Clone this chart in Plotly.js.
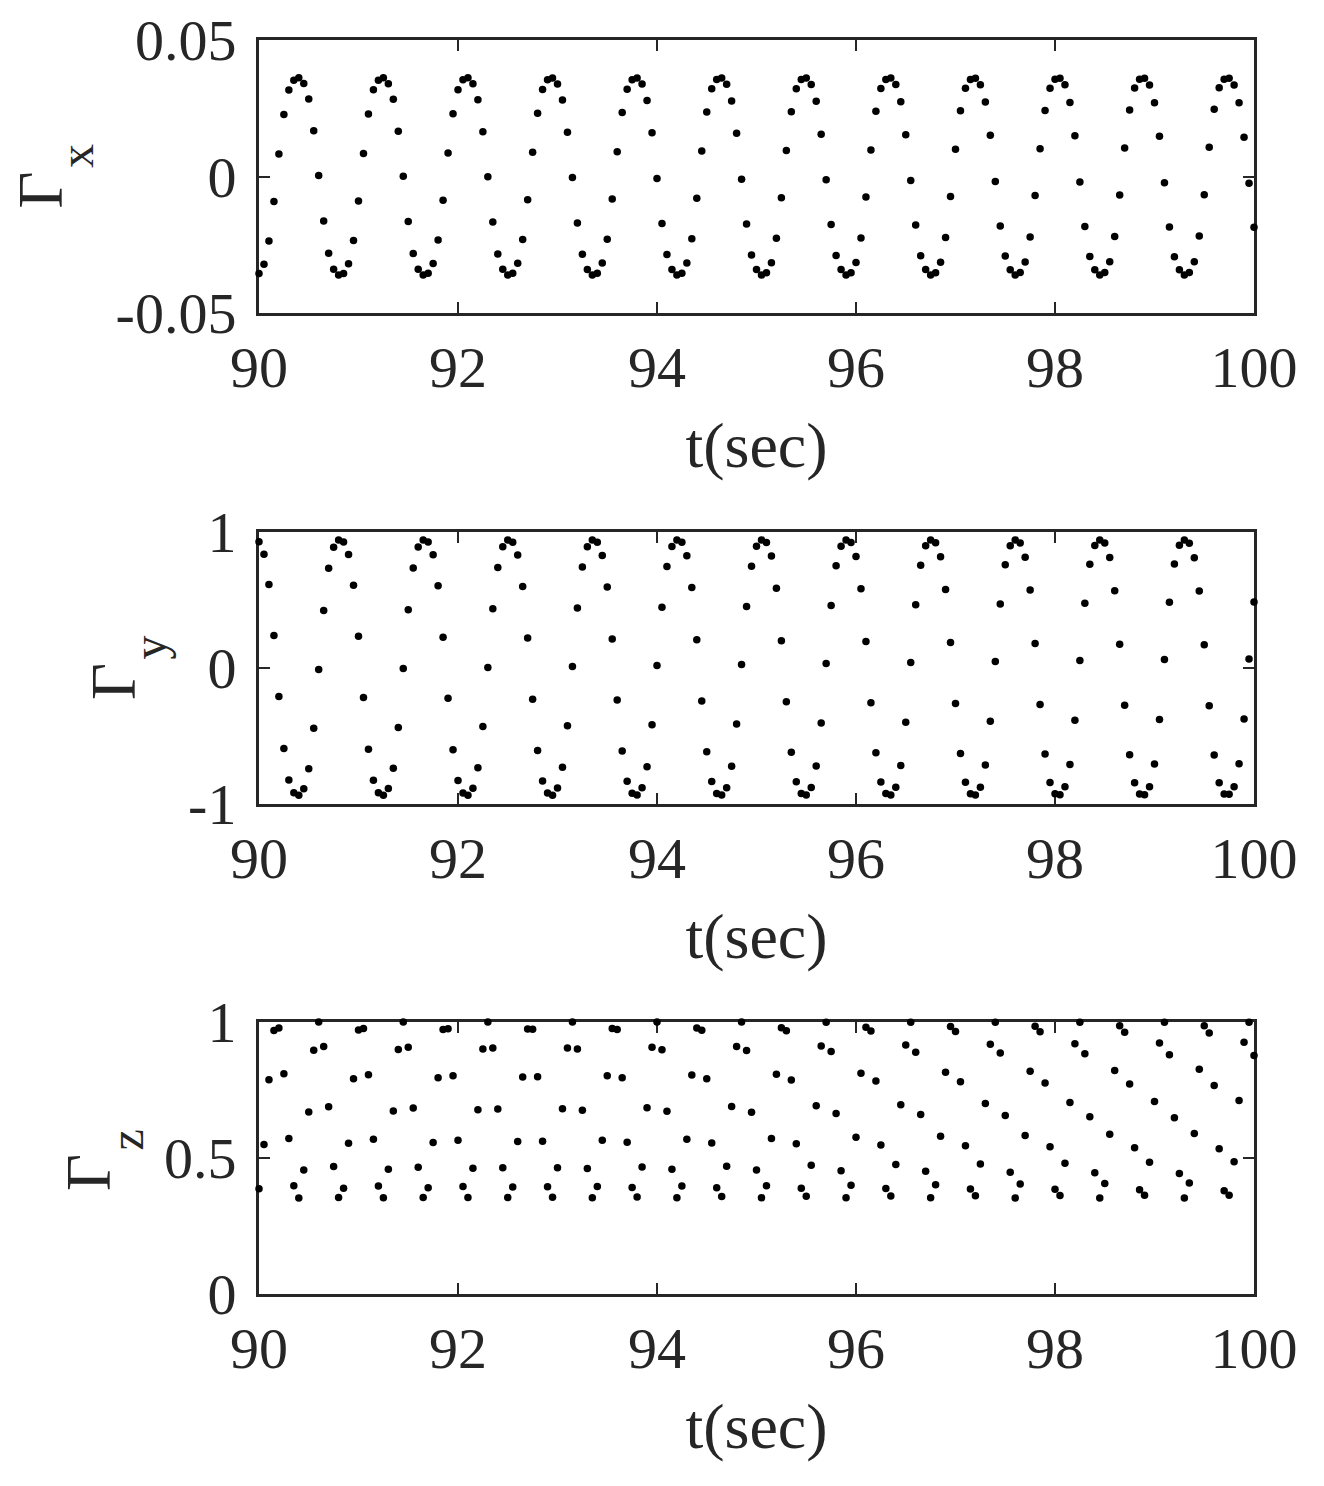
<!DOCTYPE html>
<html>
<head>
<meta charset="utf-8">
<script src="https://cdn.plot.ly/plotly-3.0.1.min.js"></script>
<style>html,body{margin:0;padding:0;background:#fff}#chart{width:1324px;height:1486px}</style>
</head>
<body>
<div id="chart"></div>
<script>
// sampling of the time axis (first sample and step, seconds)
const t0 = 90;
const dt = 0.05;

const xTickVals = [90, 92, 94, 96, 98, 100];
const xTickText = ['90', '92', '94', '96', '98', '100'];
const gxTickVals = [-0.05, 0, 0.05];
const gxTickText = ['-0.05', '0', '0.05'];
const gyTickVals = [-1, 0, 1];
const gyTickText = ['-1', '0', '1'];
const gzTickVals = [0, 0.5, 1];
const gzTickText = ['0', '0.5', '1'];

// Γx, one row per ~0.85 s cycle
const gammaX = [
  -0.0355,-0.0321,-0.0236,-0.0092,0.0082,0.0227,0.0317,0.0353,0.0362,0.0341,0.0284,0.0168,0.0004,-0.0163,-0.0281,-0.0340,-0.0361,
  -0.0355,-0.0320,-0.0234,-0.0090,0.0084,0.0229,0.0318,0.0353,0.0362,0.0340,0.0283,0.0166,0.0001,-0.0165,-0.0282,-0.0340,-0.0361,
  -0.0354,-0.0319,-0.0233,-0.0087,0.0086,0.0230,0.0318,0.0354,0.0362,0.0340,0.0281,0.0164,-0.0001,-0.0167,-0.0284,-0.0340,-0.0361,
  -0.0354,-0.0318,-0.0231,-0.0085,0.0089,0.0232,0.0319,0.0354,0.0361,0.0339,0.0280,0.0162,-0.0004,-0.0170,-0.0285,-0.0341,-0.0361,
  -0.0354,-0.0317,-0.0230,-0.0082,0.0091,0.0234,0.0320,0.0354,0.0361,0.0339,0.0278,0.0160,-0.0007,-0.0172,-0.0286,-0.0341,-0.0361,
  -0.0354,-0.0317,-0.0228,-0.0080,0.0093,0.0236,0.0321,0.0355,0.0361,0.0338,0.0277,0.0158,-0.0010,-0.0174,-0.0288,-0.0341,-0.0361,
  -0.0353,-0.0316,-0.0226,-0.0078,0.0095,0.0237,0.0321,0.0355,0.0361,0.0337,0.0276,0.0155,-0.0012,-0.0176,-0.0289,-0.0341,-0.0361,
  -0.0353,-0.0315,-0.0225,-0.0075,0.0097,0.0239,0.0322,0.0355,0.0361,0.0337,0.0274,0.0153,-0.0015,-0.0178,-0.0290,-0.0341,-0.0361,
  -0.0353,-0.0314,-0.0223,-0.0073,0.0100,0.0241,0.0323,0.0355,0.0360,0.0336,0.0273,0.0151,-0.0018,-0.0181,-0.0291,-0.0342,-0.0361,
  -0.0352,-0.0313,-0.0222,-0.0070,0.0102,0.0242,0.0323,0.0356,0.0360,0.0336,0.0271,0.0149,-0.0020,-0.0183,-0.0293,-0.0342,-0.0361,
  -0.0352,-0.0312,-0.0220,-0.0068,0.0104,0.0244,0.0324,0.0356,0.0360,0.0335,0.0270,0.0147,-0.0023,-0.0185,-0.0294,-0.0342,-0.0361,
  -0.0352,-0.0312,-0.0218,-0.0067,0.0107,0.0246,0.0325,0.0356,0.0360,0.0335,0.0270,0.0144,-0.0025,-0.0186
];

// Γy
const gammaY = [
  0.928,0.837,0.614,0.239,-0.210,-0.592,-0.824,-0.917,-0.936,-0.887,-0.740,-0.443,-0.011,0.423,0.733,0.888,0.941,
  0.927,0.835,0.609,0.233,-0.216,-0.597,-0.826,-0.918,-0.936,-0.886,-0.737,-0.437,-0.004,0.429,0.736,0.889,0.941,
  0.926,0.832,0.605,0.226,-0.223,-0.601,-0.828,-0.919,-0.935,-0.884,-0.733,-0.430,0.004,0.435,0.739,0.891,0.941,
  0.925,0.830,0.600,0.220,-0.229,-0.606,-0.830,-0.920,-0.935,-0.883,-0.730,-0.424,0.011,0.441,0.743,0.892,0.941,
  0.924,0.827,0.596,0.213,-0.236,-0.610,-0.832,-0.921,-0.934,-0.881,-0.726,-0.417,0.019,0.447,0.746,0.894,0.941,
  0.924,0.825,0.591,0.207,-0.242,-0.615,-0.834,-0.922,-0.934,-0.880,-0.723,-0.411,0.026,0.453,0.749,0.895,0.941,
  0.923,0.823,0.586,0.201,-0.248,-0.620,-0.836,-0.922,-0.934,-0.879,-0.720,-0.405,0.033,0.459,0.752,0.896,0.941,
  0.922,0.820,0.582,0.194,-0.255,-0.624,-0.838,-0.923,-0.933,-0.877,-0.716,-0.398,0.041,0.465,0.755,0.898,0.941,
  0.921,0.818,0.577,0.188,-0.261,-0.629,-0.840,-0.924,-0.933,-0.876,-0.713,-0.392,0.048,0.471,0.759,0.899,0.941,
  0.920,0.815,0.573,0.181,-0.268,-0.633,-0.842,-0.925,-0.932,-0.874,-0.709,-0.385,0.056,0.477,0.762,0.901,0.941,
  0.919,0.813,0.568,0.175,-0.274,-0.638,-0.844,-0.926,-0.932,-0.873,-0.706,-0.379,0.063,0.483,0.765,0.902,0.941,
  0.917,0.811,0.566,0.171,-0.277,-0.640,-0.843,-0.926,-0.929,-0.873,-0.704,-0.375,0.066,0.485
];

// Γz
const gammaZ = [
  0.387,0.550,0.788,0.969,0.978,0.810,0.572,0.398,0.353,0.456,0.669,0.896,1.000,0.910,0.688,0.469,0.355,
  0.389,0.554,0.791,0.971,0.976,0.806,0.569,0.397,0.354,0.459,0.673,0.899,1.000,0.907,0.684,0.466,0.355,
  0.391,0.557,0.795,0.972,0.975,0.802,0.565,0.395,0.355,0.462,0.677,0.901,1.000,0.904,0.680,0.464,0.355,
  0.393,0.561,0.798,0.974,0.973,0.799,0.562,0.394,0.356,0.464,0.681,0.904,1.000,0.901,0.676,0.461,0.354,
  0.395,0.565,0.802,0.976,0.972,0.795,0.558,0.392,0.357,0.467,0.685,0.907,1.000,0.898,0.672,0.459,0.354,
  0.397,0.569,0.805,0.978,0.970,0.791,0.555,0.391,0.358,0.470,0.689,0.910,1.000,0.895,0.668,0.456,0.354,
  0.398,0.572,0.808,0.979,0.968,0.787,0.552,0.389,0.359,0.473,0.692,0.912,0.999,0.892,0.664,0.453,0.354,
  0.400,0.576,0.812,0.981,0.967,0.783,0.548,0.388,0.360,0.476,0.696,0.915,0.999,0.889,0.660,0.451,0.354,
  0.402,0.580,0.815,0.983,0.965,0.780,0.545,0.386,0.361,0.478,0.700,0.918,0.999,0.886,0.656,0.448,0.353,
  0.404,0.583,0.819,0.984,0.964,0.776,0.541,0.385,0.362,0.481,0.704,0.920,0.999,0.883,0.652,0.446,0.353,
  0.406,0.587,0.822,0.986,0.962,0.772,0.538,0.383,0.363,0.484,0.708,0.923,0.999,0.880,0.648,0.443,0.353,
  0.408,0.590,0.826,0.986,0.960,0.767,0.534,0.380,0.363,0.486,0.711,0.926,0.999,0.877
];

const serif = '"Liberation Serif", "Times New Roman", serif';
const ink = '#262626';
const tickSize = 58;
const labelSize = 64;
const subSize = 48;

function dots(y, xa, ya) {
  return {
    type: 'scatter', mode: 'markers', y: y, x0: t0, dx: dt,
    xaxis: xa, yaxis: ya, cliponaxis: false, hoverinfo: 'skip',
    marker: {color: '#000000', size: 7.5, line: {width: 0}}
  };
}

function xAxis(anchor) {
  return {
    anchor: anchor, domain: [259/1324, 1254/1324], range: [90, 100],
    tickmode: 'array', tickvals: xTickVals, ticktext: xTickText,
    ticks: 'inside', ticklen: 11, tickwidth: 2, tickcolor: ink,
    showline: true, linewidth: 3, linecolor: ink, mirror: 'ticks',
    showgrid: false, zeroline: false, automargin: false, layer: 'below traces',
    ticklabelstandoff: 1,
    tickfont: {family: serif, size: tickSize, color: ink},
    title: {text: 't(sec)', font: {family: serif, size: labelSize, color: ink}, standoff: 24}
  };
}

function yAxis(anchor, dom, rng, vals, text) {
  return {
    anchor: anchor, domain: dom, range: rng,
    tickmode: 'array', tickvals: vals, ticktext: text,
    ticks: 'inside', ticklen: 11, tickwidth: 2, tickcolor: ink,
    showline: true, linewidth: 3, linecolor: ink, mirror: 'ticks',
    showgrid: false, zeroline: false, automargin: false, layer: 'below traces',
    ticklabelstandoff: 8,
    tickfont: {family: serif, size: tickSize, color: ink}
  };
}

function py(p) { return 1 - p / 1486; }
function px(p) { return p / 1324; }

function label(sym, x, y, size) {
  return {
    xref: 'paper', yref: 'paper', x: px(x), y: py(y),
    xanchor: 'center', yanchor: 'middle', textangle: -90, showarrow: false,
    text: sym, font: {family: serif, size: size, color: ink}
  };
}

const data = [
  dots(gammaX, 'x', 'y'),
  dots(gammaY, 'x2', 'y2'),
  dots(gammaZ, 'x3', 'y3')
];

const layout = {
  width: 1324, height: 1486,
  margin: {l: 0, r: 0, t: 0, b: 0},
  paper_bgcolor: '#ffffff', plot_bgcolor: '#ffffff',
  showlegend: false,
  xaxis: xAxis('y'),
  yaxis: yAxis('x', [py(313), py(40)], [-0.05, 0.05], gxTickVals, gxTickText),
  xaxis2: xAxis('y2'),
  yaxis2: yAxis('x2', [py(804), py(532)], [-1, 1], gyTickVals, gyTickText),
  xaxis3: xAxis('y3'),
  yaxis3: yAxis('x3', [py(1294), py(1022)], [0, 1], gzTickVals, gzTickText),
  annotations: [
    label('Γ', 40, 190.5, labelSize),
    label('x', 77, 156, subSize),
    label('Γ', 113.5, 681.5, labelSize),
    label('y', 149, 647.5, subSize),
    label('Γ', 88.5, 1172.5, labelSize),
    label('z', 125.5, 1140, subSize)
  ]
};

Plotly.newPlot('chart', data, layout, {displayModeBar: false, staticPlot: true});
</script>
</body>
</html>
